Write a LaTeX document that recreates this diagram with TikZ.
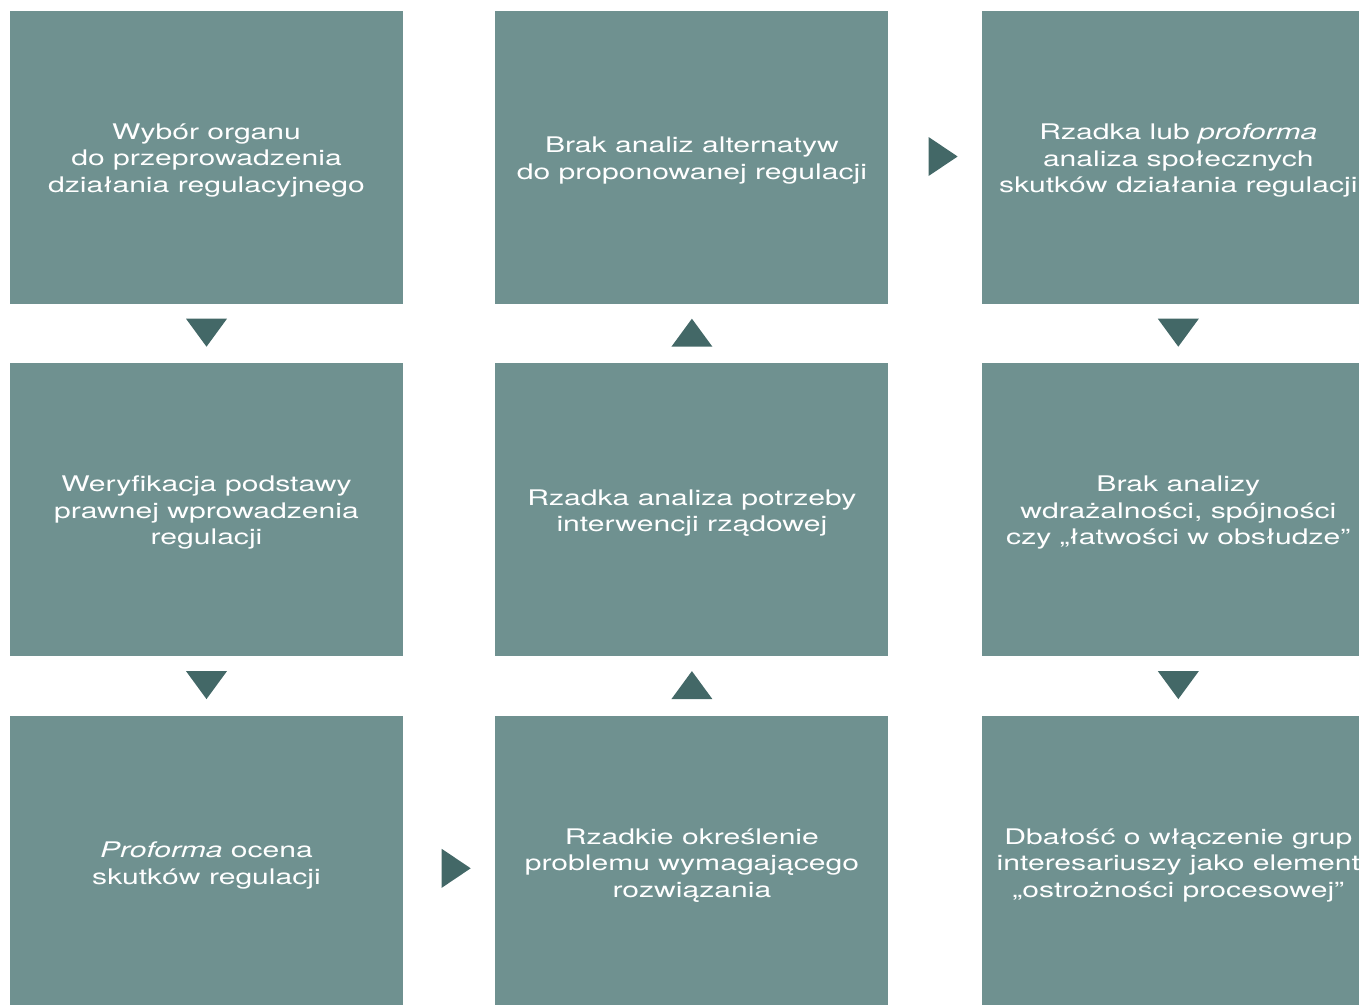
\documentclass[tikz,border=0pt]{standalone}
\usepackage{fontspec}
\setmainfont[FakeStretch=1.4]{TeX Gyre Heros}
\usetikzlibrary{positioning,calc}
\definecolor{boxgreen}{HTML}{6F9190}
\definecolor{arrowgreen}{HTML}{436867}
\tikzset{
    box/.style={rectangle, fill=boxgreen, inner sep=0pt,
        minimum width=393pt, minimum height=293pt},
    boxtext/.style={text=white, align=center, inner sep=0pt, yshift=-3pt,
        font=\fontsize{21.5}{26.5}\selectfont},
    tri/.style={fill=arrowgreen}
}
\begin{document}
\begin{tikzpicture}[x=1pt, y=-1pt, node distance=59pt and 92pt]
    \useasboundingbox (0,0) rectangle (1359,1004);
    \clip (0,0) rectangle (1359,1004);
    % first column
    \node[box, label={[boxtext]center:Wybór organu\\do przeprowadzenia\\działania regulacyjnego}] (A1) at (206.5,157.5) {};
    \node[box, below=of A1, label={[boxtext]center:Weryfikacja podstawy\\prawnej wprowadzenia\\regulacji}] (A2) {};
    \node[box, below=of A2, label={[boxtext]center:\textit{Proforma} ocena\\skutków regulacji}] (A3) {};
    % second column
    \node[box, right=of A1, label={[boxtext]center:Brak analiz alternatyw\\do proponowanej regulacji}] (B1) {};
    \node[box, below=of B1, label={[boxtext]center:Rzadka analiza potrzeby\\interwencji rządowej}] (B2) {};
    \node[box, below=of B2, label={[boxtext]center:Rzadkie określenie\\problemu wymagającego\\rozwiązania}] (B3) {};
    % third column
    \node[box, right=93pt of B1, label={[boxtext]center:Rzadka lub \textit{proforma}\\analiza społecznych\\skutków działania regulacji}] (C1) {};
    \node[box, below=of C1, label={[boxtext]center:Brak analizy\\wdrażalności, spójności\\czy „łatwości w obsłudze”}] (C2) {};
    \node[box, below=of C2, label={[boxtext]center:Dbałość o włączenie grup\\interesariuszy jako element\\„ostrożności procesowej”}] (C3) {};
    % arrow heads between the boxes
    \coordinate (A12) at ($(A1.south)!.5!(A2.north)$);
    \coordinate (A23) at ($(A2.south)!.5!(A3.north)$);
    \coordinate (B21) at ($(B2.north)!.5!(B1.south)$);
    \coordinate (B32) at ($(B3.north)!.5!(B2.south)$);
    \coordinate (C12) at ($(C1.south)!.5!(C2.north)$);
    \coordinate (C23) at ($(C2.south)!.5!(C3.north)$);
    \coordinate (BC1) at ($(B1.east)!.5!(C1.west)+(8,-1)$);
    \coordinate (AB3) at ($(A3.east)!.5!(B3.west)+(7,6)$);
    \foreach \m in {A12,A23,C12,C23}
        \fill[tri] ($(\m)+(-20.5,-15)$) -- ++(41,0) -- ++(-20.5,28) -- cycle;
    \foreach \m in {B21,B32}
        \fill[tri] ($(\m)+(-20.5,13)$) -- ++(41,0) -- ++(-20.5,-28) -- cycle;
    \foreach \m in {BC1,AB3}
        \fill[tri] ($(\m)+(-14.5,-19.5)$) -- ++(0,39) -- ++(29,-19.5) -- cycle;
\end{tikzpicture}
\end{document}
